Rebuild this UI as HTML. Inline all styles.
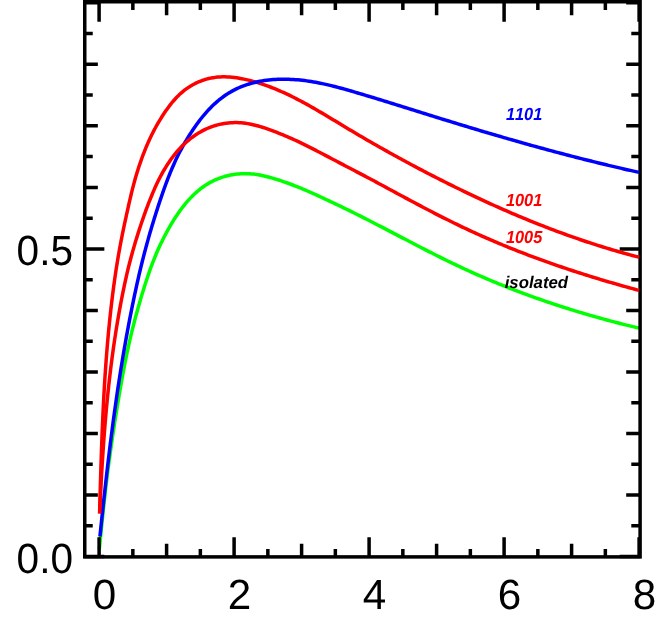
<!DOCTYPE html>
<html><head><meta charset="utf-8"><title>chart</title>
<style>html,body{margin:0;padding:0;background:#fff;overflow:hidden}svg{display:block}text{text-rendering:geometricPrecision;font-kerning:none}text{font-family:"Liberation Sans",sans-serif}</style></head><body>
<svg width="664" height="618" viewBox="0 0 664 618">
<rect x="0" y="0" width="664" height="618" fill="#fff"/>
<path d="M99.29 549.44 L99.50 547.32 L99.71 545.19 L99.92 543.07 L100.13 540.94 L100.34 538.82 L100.56 536.69 L100.77 534.56 L100.99 532.43 L101.20 530.30 L101.42 528.18 L101.64 526.05 L101.86 523.92 L102.08 521.79 L102.30 519.65 L102.53 517.52 L102.75 515.39 L102.98 513.26 L103.21 511.13 L103.43 509.00 L103.66 506.86 L103.90 504.73 L104.13 502.60 L104.36 500.46 L104.60 498.33 L104.84 496.20 L105.08 494.06 L105.32 491.93 L105.56 489.80 L105.81 487.66 L106.06 485.53 L106.31 483.39 L106.56 481.26 L106.81 479.13 L107.07 476.99 L107.33 474.86 L107.60 472.72 L107.87 470.59 L108.14 468.46 L108.42 466.32 L108.70 464.19 L108.99 462.06 L109.27 459.93 L109.56 457.79 L109.86 455.66 L110.15 453.53 L110.45 451.40 L110.75 449.27 L111.06 447.13 L111.36 445.00 L111.67 442.87 L111.98 440.74 L112.28 438.61 L112.59 436.49 L112.91 434.36 L113.22 432.23 L113.54 430.10 L113.85 427.98 L114.18 425.85 L114.50 423.72 L114.83 421.60 L115.16 419.47 L115.49 417.35 L115.83 415.23 L116.17 413.10 L116.51 410.98 L116.86 408.86 L117.20 406.74 L117.55 404.62 L117.91 402.50 L118.26 400.39 L118.61 398.27 L118.97 396.15 L119.33 394.04 L119.69 391.92 L120.05 389.81 L120.42 387.70 L120.79 385.59 L121.16 383.48 L121.54 381.37 L121.92 379.26 L122.31 377.15 L122.69 375.05 L123.08 372.94 L123.48 370.84 L123.88 368.74 L124.28 366.63 L124.69 364.53 L125.10 362.43 L125.51 360.34 L125.93 358.24 L126.36 356.15 L126.79 354.05 L127.23 351.96 L127.67 349.87 L128.12 347.78 L128.57 345.69 L129.04 343.60 L129.51 341.52 L129.99 339.43 L130.47 337.35 L130.97 335.27 L131.47 333.19 L131.98 331.11 L132.49 329.03 L133.01 326.96 L133.54 324.89 L134.07 322.81 L134.61 320.74 L135.15 318.68 L135.70 316.61 L136.26 314.54 L136.82 312.48 L137.39 310.42 L137.96 308.36 L138.54 306.30 L139.13 304.25 L139.72 302.19 L140.32 300.14 L140.92 298.09 L141.54 296.04 L142.15 293.99 L142.77 291.95 L143.40 289.91 L144.04 287.87 L144.68 285.83 L145.33 283.79 L145.99 281.76 L146.65 279.73 L147.32 277.70 L148.00 275.67 L148.69 273.64 L149.39 271.62 L150.11 269.60 L150.83 267.58 L151.57 265.56 L152.33 263.55 L153.11 261.54 L153.90 259.54 L154.70 257.53 L155.53 255.53 L156.37 253.54 L157.23 251.55 L158.11 249.56 L159.00 247.58 L159.91 245.60 L160.85 243.62 L161.80 241.65 L162.77 239.69 L163.76 237.73 L164.77 235.77 L165.80 233.82 L166.85 231.88 L167.92 229.94 L169.00 228.01 L170.10 226.09 L171.21 224.18 L172.35 222.29 L173.49 220.41 L174.66 218.56 L175.84 216.73 L177.03 214.93 L178.25 213.17 L179.48 211.43 L180.72 209.73 L181.98 208.06 L183.26 206.41 L184.55 204.80 L185.86 203.22 L187.19 201.66 L188.53 200.14 L189.90 198.64 L191.29 197.17 L192.71 195.73 L194.16 194.32 L195.64 192.93 L197.17 191.58 L198.73 190.26 L200.34 188.97 L201.99 187.71 L203.68 186.49 L205.41 185.32 L207.18 184.19 L208.99 183.12 L210.83 182.09 L212.70 181.13 L214.60 180.22 L216.52 179.37 L218.46 178.58 L220.43 177.85 L222.41 177.18 L224.42 176.56 L226.44 176.01 L228.48 175.51 L230.53 175.07 L232.59 174.70 L234.66 174.37 L236.75 174.11 L238.84 173.91 L240.94 173.76 L243.04 173.67 L245.15 173.64 L247.26 173.67 L249.37 173.76 L251.48 173.91 L253.59 174.11 L255.69 174.38 L257.79 174.69 L259.89 175.06 L261.98 175.48 L264.07 175.94 L266.15 176.43 L268.23 176.96 L270.30 177.52 L272.37 178.11 L274.44 178.72 L276.50 179.35 L278.56 180.00 L280.61 180.67 L282.66 181.36 L284.70 182.06 L286.74 182.77 L288.77 183.51 L290.80 184.25 L292.82 185.01 L294.84 185.79 L296.86 186.58 L298.87 187.39 L300.88 188.21 L302.88 189.04 L304.88 189.89 L306.88 190.75 L308.87 191.62 L310.85 192.49 L312.84 193.38 L314.82 194.27 L316.79 195.17 L318.77 196.08 L320.74 196.99 L322.70 197.90 L324.66 198.81 L326.62 199.73 L328.58 200.65 L330.53 201.57 L332.48 202.49 L334.43 203.41 L336.38 204.33 L338.32 205.26 L340.26 206.19 L342.20 207.12 L344.13 208.06 L346.06 209.00 L347.99 209.94 L349.92 210.89 L351.85 211.84 L353.77 212.80 L355.69 213.75 L357.61 214.72 L359.53 215.68 L361.45 216.65 L363.36 217.62 L365.27 218.59 L367.19 219.56 L369.10 220.54 L371.00 221.52 L372.91 222.50 L374.82 223.48 L376.72 224.46 L378.63 225.45 L380.53 226.43 L382.43 227.42 L384.34 228.41 L386.24 229.40 L388.14 230.39 L390.04 231.38 L391.94 232.38 L393.84 233.37 L395.74 234.36 L397.64 235.35 L399.53 236.34 L401.43 237.34 L403.33 238.33 L405.23 239.32 L407.13 240.31 L409.03 241.30 L410.93 242.29 L412.83 243.28 L414.73 244.26 L416.63 245.25 L418.54 246.23 L420.44 247.21 L422.34 248.19 L424.25 249.17 L426.15 250.15 L428.06 251.12 L429.97 252.09 L431.88 253.06 L433.79 254.02 L435.70 254.99 L437.62 255.95 L439.53 256.90 L441.45 257.86 L443.37 258.81 L445.29 259.75 L447.21 260.70 L449.13 261.64 L451.06 262.57 L452.99 263.50 L454.92 264.43 L456.85 265.35 L458.79 266.27 L460.73 267.18 L462.67 268.09 L464.61 268.99 L466.56 269.89 L468.51 270.78 L470.46 271.67 L472.42 272.55 L474.37 273.42 L476.33 274.29 L478.30 275.16 L480.26 276.02 L482.23 276.87 L484.20 277.72 L486.17 278.57 L488.15 279.41 L490.13 280.24 L492.11 281.07 L494.09 281.90 L496.07 282.72 L498.06 283.53 L500.05 284.34 L502.04 285.14 L504.04 285.94 L506.03 286.73 L508.03 287.52 L510.03 288.31 L512.04 289.08 L514.04 289.86 L516.05 290.63 L518.06 291.39 L520.07 292.15 L522.08 292.90 L524.10 293.65 L526.11 294.40 L528.13 295.13 L530.15 295.87 L532.17 296.60 L534.20 297.32 L536.22 298.04 L538.25 298.76 L540.28 299.47 L542.31 300.17 L544.34 300.87 L546.38 301.57 L548.41 302.26 L550.45 302.94 L552.49 303.62 L554.53 304.30 L556.57 304.97 L558.61 305.64 L560.66 306.30 L562.70 306.96 L564.75 307.61 L566.80 308.26 L568.85 308.91 L570.90 309.55 L572.95 310.18 L575.00 310.81 L577.06 311.44 L579.11 312.06 L581.17 312.67 L583.23 313.29 L585.28 313.89 L587.34 314.50 L589.40 315.09 L591.46 315.69 L593.53 316.28 L595.59 316.86 L597.65 317.44 L599.72 318.02 L601.78 318.59 L603.85 319.16 L605.91 319.72 L607.98 320.28 L610.05 320.84 L612.12 321.39 L614.19 321.93 L616.26 322.48 L618.33 323.01 L620.40 323.55 L622.47 324.08 L624.54 324.60 L626.61 325.12 L628.68 325.64 L630.75 326.15 L632.82 326.66 L634.90 327.16 L636.97 327.66 L639.04 328.16" fill="none" stroke="#00ff00" stroke-width="3.5" stroke-linecap="butt" stroke-linejoin="round"/>
<path d="M99.10 556.90 V537.30 M99.10 2.10 V21.70 M132.85 556.90 V548.90 M132.85 2.10 V10.10 M166.60 556.90 V543.80 M166.60 2.10 V15.20 M200.35 556.90 V548.90 M200.35 2.10 V10.10 M234.10 556.90 V537.30 M234.10 2.10 V21.70 M267.85 556.90 V548.90 M267.85 2.10 V10.10 M301.60 556.90 V543.80 M301.60 2.10 V15.20 M335.35 556.90 V548.90 M335.35 2.10 V10.10 M369.10 556.90 V537.30 M369.10 2.10 V21.70 M402.85 556.90 V548.90 M402.85 2.10 V10.10 M436.60 556.90 V543.80 M436.60 2.10 V15.20 M470.35 556.90 V548.90 M470.35 2.10 V10.10 M504.10 556.90 V537.30 M504.10 2.10 V21.70 M537.85 556.90 V548.90 M537.85 2.10 V10.10 M571.60 556.90 V543.80 M571.60 2.10 V15.20 M605.35 556.90 V548.90 M605.35 2.10 V10.10 M639.10 556.90 V537.30 M639.10 2.10 V21.70 M84.75 556.50 H104.35 M640.10 556.50 H619.70 M84.75 525.74 H92.75 M640.10 525.74 H631.30 M84.75 494.98 H97.85 M640.10 494.98 H626.20 M84.75 464.22 H92.75 M640.10 464.22 H631.30 M84.75 433.46 H97.85 M640.10 433.46 H626.20 M84.75 402.70 H92.75 M640.10 402.70 H631.30 M84.75 371.94 H97.85 M640.10 371.94 H626.20 M84.75 341.18 H92.75 M640.10 341.18 H631.30 M84.75 310.42 H97.85 M640.10 310.42 H626.20 M84.75 279.66 H92.75 M640.10 279.66 H631.30 M84.75 248.90 H104.35 M640.10 248.90 H619.70 M84.75 218.14 H92.75 M640.10 218.14 H631.30 M84.75 187.38 H97.85 M640.10 187.38 H626.20 M84.75 156.62 H92.75 M640.10 156.62 H631.30 M84.75 125.86 H97.85 M640.10 125.86 H626.20 M84.75 95.10 H92.75 M640.10 95.10 H631.30 M84.75 64.34 H97.85 M640.10 64.34 H626.20 M84.75 33.58 H92.75 M640.10 33.58 H631.30 M84.75 2.82 H97.85 M640.10 2.82 H626.20" fill="none" stroke="#000" stroke-width="3.5"/>
<rect x="84.75" y="1.75" width="555.35" height="555.15" fill="none" stroke="#000" stroke-width="3.5"/>
<path d="M99.60 513.51 L99.67 511.10 L99.74 508.69 L99.80 506.26 L99.87 503.84 L99.93 501.41 L100.00 498.99 L100.07 496.57 L100.13 494.16 L100.20 491.76 L100.27 489.37 L100.33 486.99 L100.40 484.61 L100.47 482.24 L100.54 479.88 L100.61 477.51 L100.68 475.15 L100.75 472.80 L100.83 470.44 L100.90 468.08 L100.97 465.73 L101.05 463.37 L101.12 461.02 L101.20 458.66 L101.28 456.31 L101.36 453.95 L101.44 451.60 L101.52 449.24 L101.61 446.89 L101.69 444.54 L101.78 442.18 L101.87 439.83 L101.95 437.48 L102.05 435.12 L102.14 432.77 L102.23 430.42 L102.33 428.07 L102.43 425.71 L102.53 423.36 L102.63 421.01 L102.74 418.66 L102.84 416.31 L102.95 413.96 L103.06 411.61 L103.17 409.26 L103.29 406.91 L103.41 404.56 L103.53 402.21 L103.65 399.86 L103.78 397.52 L103.90 395.17 L104.03 392.82 L104.17 390.47 L104.30 388.13 L104.44 385.78 L104.58 383.43 L104.73 381.09 L104.88 378.74 L105.03 376.40 L105.18 374.05 L105.34 371.71 L105.50 369.36 L105.66 367.02 L105.83 364.68 L106.00 362.33 L106.17 359.99 L106.35 357.65 L106.53 355.31 L106.71 352.97 L106.90 350.63 L107.09 348.28 L107.29 345.94 L107.49 343.61 L107.69 341.27 L107.90 338.93 L108.11 336.59 L108.32 334.25 L108.54 331.91 L108.76 329.58 L108.99 327.24 L109.22 324.90 L109.46 322.57 L109.70 320.23 L109.94 317.90 L110.19 315.57 L110.44 313.23 L110.70 310.90 L110.97 308.57 L111.23 306.23 L111.51 303.90 L111.78 301.57 L112.06 299.24 L112.35 296.91 L112.64 294.58 L112.94 292.25 L113.24 289.92 L113.55 287.60 L113.86 285.27 L114.18 282.94 L114.50 280.62 L114.83 278.29 L115.17 275.96 L115.51 273.64 L115.86 271.32 L116.21 268.99 L116.57 266.67 L116.94 264.35 L117.32 262.03 L117.70 259.70 L118.09 257.38 L118.49 255.06 L118.90 252.74 L119.31 250.43 L119.73 248.11 L120.16 245.79 L120.59 243.47 L121.03 241.16 L121.48 238.84 L121.94 236.53 L122.40 234.21 L122.87 231.90 L123.35 229.59 L123.83 227.27 L124.32 224.96 L124.81 222.65 L125.31 220.34 L125.82 218.03 L126.32 215.72 L126.83 213.41 L127.34 211.11 L127.85 208.80 L128.36 206.50 L128.88 204.19 L129.40 201.89 L129.93 199.59 L130.46 197.29 L131.01 195.00 L131.56 192.71 L132.12 190.42 L132.70 188.14 L133.29 185.85 L133.90 183.58 L134.52 181.30 L135.15 179.04 L135.80 176.77 L136.47 174.52 L137.15 172.26 L137.86 170.02 L138.57 167.78 L139.31 165.54 L140.06 163.32 L140.83 161.09 L141.61 158.88 L142.42 156.68 L143.24 154.48 L144.09 152.29 L144.95 150.10 L145.84 147.93 L146.74 145.76 L147.67 143.61 L148.62 141.46 L149.60 139.32 L150.60 137.20 L151.62 135.08 L152.67 132.97 L153.74 130.88 L154.85 128.79 L155.98 126.72 L157.13 124.66 L158.32 122.61 L159.53 120.57 L160.77 118.55 L162.04 116.54 L163.33 114.54 L164.66 112.56 L166.01 110.61 L167.39 108.67 L168.79 106.76 L170.23 104.87 L171.69 103.03 L173.18 101.23 L174.70 99.48 L176.25 97.79 L177.83 96.15 L179.45 94.58 L181.11 93.06 L182.81 91.61 L184.54 90.22 L186.32 88.89 L188.14 87.62 L190.00 86.42 L191.91 85.28 L193.86 84.19 L195.85 83.18 L197.89 82.23 L199.97 81.34 L202.09 80.53 L204.26 79.79 L206.46 79.14 L208.69 78.57 L210.96 78.09 L213.25 77.68 L215.56 77.36 L217.89 77.11 L220.24 76.95 L222.60 76.86 L224.96 76.85 L227.34 76.92 L229.71 77.05 L232.09 77.26 L234.47 77.53 L236.84 77.85 L239.20 78.23 L241.55 78.66 L243.89 79.13 L246.21 79.63 L248.53 80.17 L250.82 80.75 L253.11 81.36 L255.38 81.99 L257.64 82.66 L259.89 83.36 L262.12 84.08 L264.35 84.83 L266.56 85.61 L268.76 86.41 L270.95 87.24 L273.14 88.09 L275.31 88.97 L277.47 89.87 L279.62 90.79 L281.77 91.73 L283.90 92.69 L286.03 93.67 L288.15 94.67 L290.26 95.69 L292.36 96.73 L294.46 97.78 L296.55 98.85 L298.63 99.93 L300.71 101.03 L302.78 102.14 L304.85 103.26 L306.91 104.40 L308.97 105.55 L311.02 106.70 L313.07 107.87 L315.11 109.04 L317.15 110.23 L319.19 111.42 L321.22 112.62 L323.25 113.82 L325.28 115.03 L327.31 116.24 L329.33 117.46 L331.36 118.68 L333.38 119.90 L335.40 121.12 L337.43 122.35 L339.45 123.57 L341.47 124.79 L343.49 126.02 L345.52 127.23 L347.54 128.45 L349.57 129.66 L351.59 130.87 L353.62 132.07 L355.65 133.27 L357.68 134.47 L359.72 135.67 L361.75 136.86 L363.79 138.05 L365.82 139.23 L367.86 140.41 L369.90 141.59 L371.94 142.76 L373.98 143.93 L376.03 145.10 L378.07 146.26 L380.12 147.42 L382.17 148.58 L384.22 149.73 L386.27 150.88 L388.32 152.03 L390.37 153.17 L392.43 154.31 L394.49 155.45 L396.55 156.58 L398.61 157.71 L400.67 158.84 L402.73 159.96 L404.80 161.08 L406.87 162.20 L408.93 163.31 L411.00 164.42 L413.08 165.53 L415.15 166.63 L417.23 167.73 L419.30 168.83 L421.38 169.92 L423.46 171.01 L425.55 172.09 L427.63 173.18 L429.72 174.26 L431.80 175.33 L433.89 176.41 L435.99 177.48 L438.08 178.54 L440.17 179.60 L442.27 180.66 L444.37 181.72 L446.47 182.77 L448.57 183.82 L450.68 184.87 L452.79 185.91 L454.89 186.95 L457.00 187.99 L459.12 189.02 L461.23 190.05 L463.35 191.07 L465.47 192.09 L467.59 193.11 L469.71 194.12 L471.83 195.13 L473.96 196.14 L476.09 197.14 L478.22 198.14 L480.35 199.13 L482.48 200.12 L484.62 201.10 L486.75 202.08 L488.89 203.06 L491.04 204.03 L493.18 205.00 L495.32 205.97 L497.47 206.93 L499.62 207.88 L501.77 208.83 L503.93 209.78 L506.08 210.72 L508.24 211.66 L510.40 212.59 L512.56 213.52 L514.72 214.44 L516.89 215.36 L519.06 216.27 L521.23 217.18 L523.40 218.08 L525.57 218.98 L527.75 219.87 L529.93 220.76 L532.11 221.65 L534.29 222.53 L536.47 223.40 L538.66 224.27 L540.85 225.13 L543.04 225.99 L545.23 226.84 L547.42 227.69 L549.62 228.53 L551.82 229.36 L554.02 230.19 L556.22 231.02 L558.43 231.84 L560.63 232.65 L562.84 233.46 L565.05 234.26 L567.27 235.06 L569.48 235.85 L571.70 236.64 L573.92 237.42 L576.14 238.19 L578.37 238.96 L580.59 239.72 L582.82 240.47 L585.05 241.22 L587.28 241.97 L589.52 242.70 L591.75 243.43 L593.99 244.16 L596.23 244.88 L598.48 245.59 L600.72 246.29 L602.97 246.99 L605.22 247.68 L607.47 248.37 L609.73 249.05 L611.98 249.72 L614.24 250.39 L616.50 251.05 L618.77 251.70 L621.03 252.35 L623.30 252.99 L625.57 253.62 L627.84 254.24 L630.11 254.86 L632.39 255.47 L634.67 256.08 L636.95 256.68 L639.23 257.27" fill="none" stroke="#ff0000" stroke-width="3.5" stroke-linecap="butt" stroke-linejoin="round"/>
<path d="M99.94 536.48 L100.17 534.23 L100.40 531.98 L100.64 529.74 L100.87 527.49 L101.11 525.24 L101.34 523.00 L101.58 520.75 L101.81 518.50 L102.05 516.26 L102.29 514.01 L102.53 511.77 L102.76 509.52 L103.01 507.28 L103.25 505.03 L103.49 502.79 L103.73 500.55 L103.98 498.30 L104.22 496.06 L104.47 493.82 L104.72 491.58 L104.97 489.33 L105.22 487.09 L105.47 484.85 L105.72 482.61 L105.97 480.37 L106.23 478.13 L106.48 475.89 L106.74 473.65 L107.00 471.41 L107.26 469.17 L107.52 466.93 L107.79 464.70 L108.05 462.46 L108.32 460.22 L108.59 457.98 L108.86 455.75 L109.13 453.51 L109.40 451.27 L109.68 449.04 L109.95 446.80 L110.23 444.57 L110.51 442.34 L110.79 440.10 L111.08 437.87 L111.36 435.64 L111.65 433.40 L111.94 431.17 L112.23 428.94 L112.52 426.71 L112.82 424.48 L113.11 422.25 L113.41 420.02 L113.72 417.79 L114.02 415.56 L114.33 413.33 L114.63 411.10 L114.94 408.87 L115.26 406.64 L115.57 404.42 L115.89 402.19 L116.21 399.96 L116.53 397.74 L116.85 395.51 L117.18 393.29 L117.51 391.06 L117.84 388.84 L118.17 386.62 L118.51 384.40 L118.85 382.17 L119.19 379.95 L119.54 377.73 L119.88 375.51 L120.23 373.29 L120.59 371.07 L120.94 368.85 L121.30 366.63 L121.66 364.41 L122.02 362.19 L122.39 359.98 L122.76 357.76 L123.13 355.54 L123.51 353.33 L123.89 351.11 L124.27 348.90 L124.65 346.68 L125.04 344.47 L125.43 342.26 L125.83 340.04 L126.22 337.83 L126.62 335.62 L127.03 333.41 L127.43 331.20 L127.84 328.99 L128.26 326.78 L128.67 324.57 L129.10 322.36 L129.52 320.16 L129.95 317.95 L130.38 315.74 L130.81 313.54 L131.25 311.33 L131.69 309.13 L132.13 306.92 L132.58 304.72 L133.04 302.52 L133.49 300.31 L133.95 298.11 L134.41 295.91 L134.88 293.71 L135.35 291.51 L135.83 289.31 L136.31 287.11 L136.79 284.91 L137.28 282.72 L137.77 280.52 L138.26 278.32 L138.76 276.13 L139.27 273.93 L139.78 271.74 L140.30 269.55 L140.83 267.35 L141.36 265.16 L141.90 262.97 L142.45 260.78 L143.00 258.59 L143.56 256.40 L144.13 254.21 L144.70 252.02 L145.28 249.83 L145.87 247.64 L146.46 245.46 L147.06 243.27 L147.66 241.09 L148.27 238.90 L148.88 236.72 L149.50 234.54 L150.13 232.35 L150.77 230.17 L151.41 227.99 L152.06 225.82 L152.72 223.64 L153.38 221.47 L154.05 219.30 L154.73 217.13 L155.41 214.96 L156.09 212.80 L156.78 210.64 L157.48 208.48 L158.17 206.32 L158.88 204.17 L159.59 202.02 L160.30 199.88 L161.02 197.74 L161.74 195.60 L162.48 193.47 L163.22 191.34 L163.96 189.22 L164.72 187.10 L165.49 184.99 L166.27 182.88 L167.06 180.78 L167.86 178.68 L168.68 176.59 L169.51 174.51 L170.36 172.43 L171.22 170.36 L172.09 168.29 L172.98 166.23 L173.89 164.18 L174.81 162.14 L175.75 160.11 L176.70 158.08 L177.68 156.07 L178.68 154.06 L179.69 152.07 L180.73 150.09 L181.79 148.11 L182.88 146.15 L183.98 144.20 L185.11 142.25 L186.26 140.31 L187.43 138.38 L188.62 136.45 L189.83 134.53 L191.07 132.62 L192.32 130.71 L193.60 128.81 L194.90 126.93 L196.22 125.06 L197.56 123.20 L198.93 121.36 L200.32 119.55 L201.73 117.76 L203.16 115.99 L204.61 114.26 L206.09 112.56 L207.59 110.89 L209.12 109.25 L210.66 107.66 L212.23 106.09 L213.83 104.57 L215.45 103.09 L217.10 101.64 L218.77 100.23 L220.46 98.87 L222.18 97.55 L223.92 96.27 L225.69 95.04 L227.48 93.86 L229.30 92.73 L231.14 91.64 L233.02 90.60 L234.92 89.62 L236.86 88.67 L238.83 87.78 L240.82 86.93 L242.85 86.13 L244.90 85.37 L246.99 84.65 L249.09 83.98 L251.22 83.36 L253.37 82.78 L255.53 82.24 L257.71 81.76 L259.91 81.31 L262.11 80.92 L264.32 80.57 L266.55 80.26 L268.77 80.00 L271.00 79.78 L273.24 79.61 L275.47 79.46 L277.71 79.36 L279.95 79.29 L282.19 79.25 L284.42 79.25 L286.66 79.27 L288.90 79.33 L291.14 79.41 L293.38 79.53 L295.61 79.68 L297.85 79.85 L300.09 80.06 L302.32 80.30 L304.56 80.56 L306.79 80.86 L309.02 81.18 L311.26 81.53 L313.49 81.90 L315.72 82.29 L317.94 82.71 L320.17 83.16 L322.40 83.62 L324.62 84.10 L326.84 84.60 L329.06 85.12 L331.28 85.66 L333.50 86.21 L335.71 86.78 L337.92 87.36 L340.13 87.95 L342.34 88.55 L344.54 89.17 L346.74 89.79 L348.94 90.41 L351.14 91.05 L353.33 91.69 L355.52 92.33 L357.71 92.98 L359.89 93.62 L362.07 94.27 L364.25 94.92 L366.42 95.57 L368.60 96.23 L370.76 96.88 L372.93 97.54 L375.09 98.20 L377.25 98.85 L379.41 99.51 L381.57 100.17 L383.72 100.83 L385.87 101.49 L388.02 102.16 L390.17 102.82 L392.32 103.48 L394.46 104.15 L396.61 104.81 L398.75 105.48 L400.89 106.15 L403.03 106.81 L405.16 107.48 L407.30 108.15 L409.44 108.81 L411.57 109.48 L413.71 110.15 L415.84 110.82 L417.97 111.48 L420.11 112.15 L422.24 112.82 L424.37 113.48 L426.50 114.15 L428.64 114.82 L430.77 115.48 L432.90 116.15 L435.04 116.81 L437.17 117.48 L439.30 118.14 L441.44 118.81 L443.57 119.47 L445.71 120.13 L447.85 120.79 L449.99 121.45 L452.13 122.11 L454.27 122.77 L456.41 123.43 L458.55 124.08 L460.70 124.74 L462.85 125.39 L464.99 126.04 L467.14 126.69 L469.29 127.34 L471.45 127.99 L473.60 128.64 L475.75 129.28 L477.91 129.93 L480.06 130.57 L482.22 131.22 L484.38 131.86 L486.54 132.50 L488.70 133.13 L490.86 133.77 L493.03 134.41 L495.19 135.04 L497.35 135.67 L499.52 136.30 L501.69 136.93 L503.85 137.56 L506.02 138.18 L508.19 138.81 L510.36 139.43 L512.53 140.05 L514.70 140.67 L516.88 141.29 L519.05 141.90 L521.22 142.52 L523.40 143.13 L525.57 143.74 L527.75 144.35 L529.93 144.95 L532.10 145.56 L534.28 146.16 L536.46 146.76 L538.64 147.36 L540.82 147.96 L543.00 148.55 L545.18 149.14 L547.36 149.73 L549.54 150.32 L551.72 150.91 L553.90 151.49 L556.08 152.07 L558.27 152.65 L560.45 153.23 L562.63 153.81 L564.81 154.38 L567.00 154.95 L569.18 155.52 L571.37 156.09 L573.55 156.65 L575.73 157.21 L577.92 157.77 L580.10 158.33 L582.29 158.88 L584.47 159.43 L586.66 159.98 L588.84 160.53 L591.02 161.07 L593.21 161.62 L595.39 162.16 L597.58 162.69 L599.76 163.23 L601.95 163.76 L604.13 164.29 L606.31 164.81 L608.50 165.34 L610.68 165.86 L612.86 166.37 L615.05 166.89 L617.23 167.40 L619.41 167.91 L621.59 168.42 L623.77 168.92 L625.95 169.42 L628.14 169.92 L630.32 170.41 L632.50 170.91 L634.67 171.40 L636.85 171.88 L639.03 172.36" fill="none" stroke="#0000ff" stroke-width="3.5" stroke-linecap="butt" stroke-linejoin="round"/>
<path d="M99.70 513.36 L99.80 511.11 L99.90 508.86 L100.00 506.59 L100.10 504.33 L100.20 502.07 L100.31 499.80 L100.41 497.55 L100.52 495.30 L100.63 493.05 L100.74 490.82 L100.85 488.59 L100.96 486.37 L101.08 484.16 L101.20 481.95 L101.32 479.74 L101.44 477.54 L101.56 475.33 L101.69 473.13 L101.81 470.92 L101.94 468.72 L102.07 466.52 L102.21 464.31 L102.34 462.11 L102.48 459.90 L102.62 457.70 L102.76 455.49 L102.91 453.28 L103.06 451.08 L103.21 448.87 L103.36 446.67 L103.51 444.46 L103.67 442.25 L103.83 440.05 L103.99 437.84 L104.16 435.63 L104.33 433.43 L104.50 431.22 L104.67 429.02 L104.85 426.81 L105.03 424.60 L105.21 422.40 L105.40 420.19 L105.59 417.98 L105.78 415.78 L105.97 413.57 L106.17 411.37 L106.37 409.16 L106.58 406.96 L106.78 404.75 L106.99 402.55 L107.21 400.34 L107.43 398.14 L107.65 395.94 L107.87 393.73 L108.10 391.53 L108.34 389.33 L108.57 387.12 L108.81 384.92 L109.05 382.72 L109.30 380.52 L109.55 378.32 L109.81 376.12 L110.07 373.92 L110.33 371.72 L110.60 369.53 L110.87 367.33 L111.14 365.13 L111.42 362.94 L111.70 360.74 L111.99 358.55 L112.28 356.35 L112.58 354.16 L112.88 351.97 L113.18 349.77 L113.49 347.58 L113.80 345.39 L114.12 343.20 L114.44 341.02 L114.77 338.83 L115.10 336.64 L115.44 334.46 L115.78 332.27 L116.13 330.09 L116.48 327.90 L116.83 325.72 L117.19 323.54 L117.56 321.36 L117.93 319.18 L118.30 317.00 L118.69 314.83 L119.07 312.65 L119.46 310.48 L119.86 308.30 L120.26 306.13 L120.66 303.96 L121.08 301.79 L121.49 299.62 L121.92 297.46 L122.34 295.29 L122.78 293.13 L123.22 290.96 L123.66 288.80 L124.11 286.64 L124.57 284.48 L125.03 282.32 L125.50 280.17 L125.97 278.01 L126.46 275.86 L126.95 273.71 L127.45 271.56 L127.96 269.41 L128.48 267.26 L129.02 265.11 L129.56 262.97 L130.12 260.83 L130.68 258.69 L131.26 256.55 L131.85 254.41 L132.44 252.27 L133.04 250.14 L133.66 248.01 L134.28 245.88 L134.90 243.75 L135.54 241.62 L136.18 239.50 L136.84 237.37 L137.50 235.25 L138.16 233.13 L138.84 231.01 L139.52 228.90 L140.22 226.78 L140.91 224.67 L141.62 222.56 L142.34 220.45 L143.06 218.35 L143.80 216.25 L144.54 214.15 L145.29 212.06 L146.06 209.96 L146.83 207.88 L147.62 205.80 L148.41 203.72 L149.22 201.65 L150.04 199.59 L150.87 197.53 L151.71 195.47 L152.56 193.43 L153.42 191.39 L154.30 189.35 L155.19 187.33 L156.11 185.31 L157.04 183.30 L158.01 181.30 L158.99 179.31 L160.01 177.32 L161.06 175.35 L162.13 173.38 L163.24 171.43 L164.38 169.49 L165.54 167.57 L166.73 165.66 L167.95 163.78 L169.20 161.92 L170.46 160.09 L171.75 158.30 L173.06 156.54 L174.39 154.81 L175.74 153.13 L177.12 151.50 L178.52 149.90 L179.94 148.34 L181.39 146.83 L182.86 145.36 L184.36 143.92 L185.89 142.51 L187.45 141.14 L189.05 139.80 L190.68 138.50 L192.35 137.22 L194.06 135.98 L195.82 134.77 L197.62 133.60 L199.46 132.48 L201.34 131.40 L203.27 130.37 L205.23 129.40 L207.22 128.49 L209.25 127.63 L211.30 126.85 L213.37 126.12 L215.46 125.47 L217.57 124.88 L219.69 124.36 L221.82 123.91 L223.97 123.52 L226.12 123.20 L228.27 122.94 L230.44 122.76 L232.60 122.63 L234.77 122.58 L236.93 122.59 L239.09 122.66 L241.25 122.81 L243.40 123.01 L245.54 123.29 L247.67 123.62 L249.80 124.00 L251.93 124.44 L254.04 124.93 L256.15 125.46 L258.26 126.03 L260.35 126.63 L262.45 127.27 L264.53 127.94 L266.62 128.64 L268.69 129.36 L270.77 130.11 L272.83 130.88 L274.90 131.66 L276.96 132.46 L279.01 133.27 L281.07 134.09 L283.11 134.94 L285.16 135.79 L287.20 136.66 L289.23 137.54 L291.27 138.43 L293.29 139.34 L295.32 140.26 L297.34 141.19 L299.36 142.14 L301.38 143.10 L303.39 144.08 L305.40 145.07 L307.41 146.07 L309.41 147.08 L311.41 148.10 L313.41 149.13 L315.40 150.16 L317.39 151.19 L319.38 152.23 L321.37 153.27 L323.35 154.30 L325.34 155.34 L327.32 156.38 L329.29 157.41 L331.27 158.45 L333.24 159.49 L335.21 160.52 L337.18 161.56 L339.15 162.59 L341.11 163.63 L343.08 164.66 L345.04 165.69 L347.00 166.72 L348.96 167.75 L350.92 168.77 L352.87 169.79 L354.83 170.81 L356.78 171.83 L358.73 172.85 L360.68 173.87 L362.63 174.89 L364.58 175.91 L366.53 176.94 L368.48 177.97 L370.43 179.01 L372.37 180.04 L374.32 181.08 L376.26 182.13 L378.21 183.17 L380.15 184.22 L382.09 185.27 L384.04 186.32 L385.98 187.37 L387.92 188.42 L389.87 189.48 L391.81 190.53 L393.75 191.58 L395.70 192.63 L397.64 193.68 L399.59 194.73 L401.53 195.78 L403.48 196.82 L405.42 197.87 L407.37 198.91 L409.31 199.96 L411.26 201.00 L413.21 202.04 L415.16 203.07 L417.11 204.11 L419.06 205.14 L421.01 206.17 L422.97 207.20 L424.92 208.23 L426.88 209.25 L428.84 210.27 L430.80 211.29 L432.76 212.31 L434.72 213.32 L436.68 214.32 L438.65 215.33 L440.62 216.33 L442.59 217.33 L444.56 218.32 L446.53 219.31 L448.51 220.30 L450.49 221.28 L452.47 222.25 L454.45 223.22 L456.44 224.19 L458.42 225.15 L460.41 226.11 L462.41 227.06 L464.40 228.01 L466.40 228.95 L468.40 229.89 L470.40 230.82 L472.41 231.75 L474.42 232.67 L476.43 233.58 L478.45 234.49 L480.47 235.39 L482.49 236.29 L484.51 237.19 L486.53 238.08 L488.56 238.96 L490.59 239.84 L492.63 240.71 L494.66 241.58 L496.70 242.44 L498.74 243.30 L500.78 244.15 L502.82 245.00 L504.87 245.84 L506.92 246.67 L508.97 247.51 L511.02 248.33 L513.08 249.16 L515.14 249.97 L517.20 250.79 L519.26 251.59 L521.32 252.40 L523.39 253.19 L525.46 253.99 L527.52 254.78 L529.60 255.56 L531.67 256.34 L533.74 257.11 L535.82 257.88 L537.90 258.65 L539.98 259.41 L542.06 260.16 L544.14 260.92 L546.23 261.66 L548.31 262.40 L550.40 263.14 L552.49 263.88 L554.58 264.60 L556.67 265.33 L558.77 266.05 L560.86 266.76 L562.96 267.48 L565.05 268.18 L567.15 268.89 L569.25 269.58 L571.35 270.28 L573.46 270.97 L575.56 271.65 L577.66 272.33 L579.77 273.01 L581.88 273.69 L583.98 274.35 L586.09 275.02 L588.20 275.68 L590.31 276.34 L592.42 276.99 L594.53 277.64 L596.65 278.28 L598.76 278.93 L600.87 279.56 L602.99 280.20 L605.10 280.83 L607.22 281.45 L609.34 282.07 L611.45 282.69 L613.57 283.30 L615.69 283.92 L617.81 284.52 L619.93 285.13 L622.05 285.72 L624.16 286.32 L626.28 286.91 L628.40 287.50 L630.53 288.09 L632.65 288.67 L634.77 289.25 L636.89 289.82 L639.01 290.39" fill="none" stroke="#ff0000" stroke-width="3.5" stroke-linecap="butt" stroke-linejoin="round"/>
<defs><filter id="g" filterUnits="userSpaceOnUse" x="0" y="0" width="664" height="618"><feColorMatrix type="matrix" values="1 0 0 0 0 0 1 0 0 0 0 0 1 0 0 0 0 0 1 0"/></filter></defs>
<g filter="url(#g)">
<text transform="translate(104.40 608.8) scale(1.0 1)" font-size="42.2" text-anchor="middle" fill="#000">0</text>
<text transform="translate(239.40 608.8) scale(1.0 1)" font-size="42.2" text-anchor="middle" fill="#000">2</text>
<text transform="translate(374.40 608.8) scale(1.0 1)" font-size="42.2" text-anchor="middle" fill="#000">4</text>
<text transform="translate(509.40 608.8) scale(1.0 1)" font-size="42.2" text-anchor="middle" fill="#000">6</text>
<text transform="translate(644.40 608.8) scale(1.0 1)" font-size="42.2" text-anchor="middle" fill="#000">8</text>
<text transform="translate(73.0 573.0) scale(0.962 1)" font-size="42.2" text-anchor="end" fill="#000">0.0</text>
<text transform="translate(73.0 265.1) scale(0.962 1)" font-size="42.2" text-anchor="end" fill="#000">0.5</text>
<text transform="translate(505.90 120.00) scale(0.93 1)" font-size="17.6" font-weight="bold" font-style="italic" fill="#0000ff">1101</text>
<text transform="translate(505.90 206.25) scale(0.93 1)" font-size="17.6" font-weight="bold" font-style="italic" fill="#ff0000">1001</text>
<text transform="translate(505.90 242.75) scale(0.93 1)" font-size="17.6" font-weight="bold" font-style="italic" fill="#ff0000">1005</text>
<text transform="translate(504.70 288.00) scale(1.0 1)" font-size="16.8" font-weight="bold" font-style="italic" fill="#000">isolated</text>
</g>
</svg></body></html>
